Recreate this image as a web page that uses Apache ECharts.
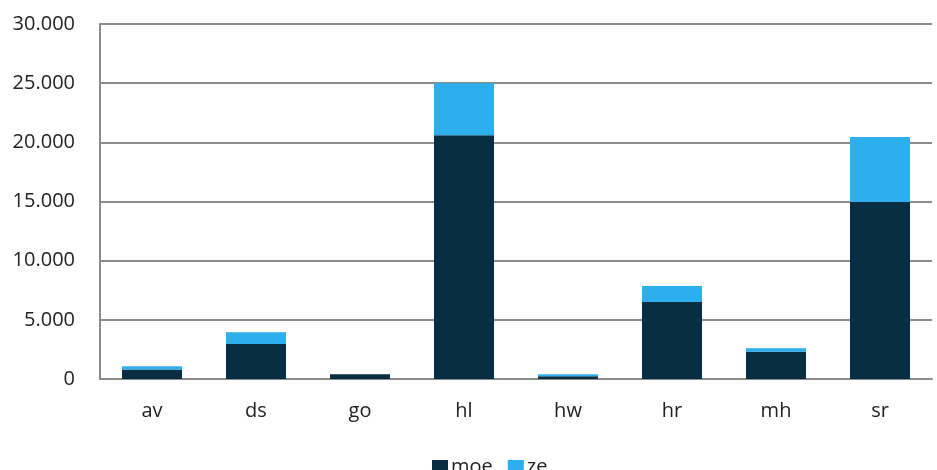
<!DOCTYPE html>
<html>
<head>
<meta charset="utf-8">
<script src="https://cdn.jsdelivr.net/npm/echarts@6/dist/echarts.min.js"></script>
<style>
  html, body { margin: 0; padding: 0; background: #fff; }
  #chart { width: 937px; height: 470px; }
</style>
</head>
<body>
<div id="chart"></div>
<script>
var categories = ['av', 'ds', 'go', 'hl', 'hw', 'hr', 'mh', 'sr']
var moeValues = [800, 2950, 400, 20600, 230, 6500, 2300, 14950]
var zeValues = [270, 1000, 0, 4400, 170, 1350, 300, 5500]
var yTicks = [0, 5000, 10000, 15000, 20000, 25000, 30000]

var chart = echarts.init(document.getElementById('chart'))

// duizendtallen met punt, zoals in het origineel
function fmt(v) {
  return String(v).replace(/\B(?=(\d{3})+(?!\d))/g, '.')
}

chart.setOption({
  animation: false,
  textStyle: { fontFamily: 'Open Sans, Liberation Sans, sans-serif' },
  grid: { left: 100, right: 5, top: 24, bottom: 91 },
  legend: {
    top: 452,
    left: 427,
    itemWidth: 16,
    itemHeight: 14,
    itemGap: 15,
    icon: 'rect',
    textStyle: { fontSize: 20, color: '#222', padding: [0, 0, 0, -2] },
    data: ['moe', 'ze']
  },
  xAxis: {
    type: 'category',
    data: categories,
    axisLine: { lineStyle: { color: '#8c8c8c', width: 2 } },
    axisTick: { show: false },
    axisLabel: { fontSize: 20, color: '#222', margin: 22 }
  },
  yAxis: {
    type: 'value',
    min: yTicks[0],
    max: yTicks[yTicks.length - 1],
    interval: 5000,
    axisLine: { show: true, lineStyle: { color: '#8c8c8c', width: 2 } },
    axisTick: { show: false },
    splitLine: { lineStyle: { color: '#8c8c8c', width: 2 } },
    axisLabel: { fontSize: 20, color: '#222', margin: 25, formatter: fmt }
  },
  series: [
    {
      name: 'moe',
      type: 'bar',
      stack: 'totaal',
      barWidth: 60,
      itemStyle: { color: '#062d42' },
      data: moeValues
    },
    {
      name: 'ze',
      type: 'bar',
      stack: 'totaal',
      barWidth: 60,
      itemStyle: { color: '#2daeed' },
      data: zeValues
    }
  ]
})
</script>
</body>
</html>
